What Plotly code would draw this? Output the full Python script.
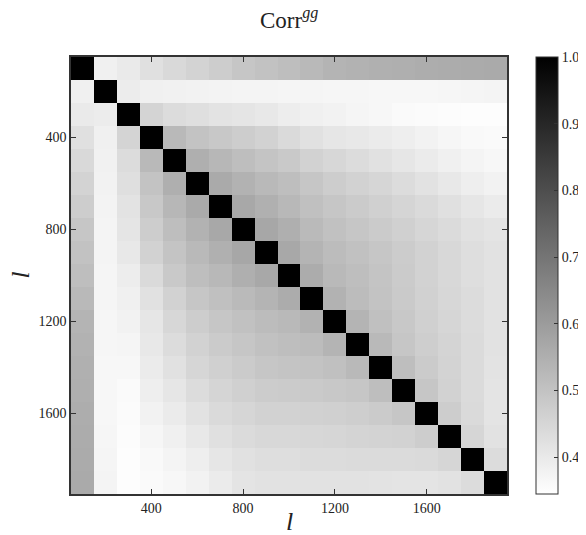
import plotly.graph_objects as go

# multipole bin centres (l)
ell = [100, 200, 300, 400, 500, 600, 700, 800, 900, 1000,
       1100, 1200, 1300, 1400, 1500, 1600, 1700, 1800, 1900]

# upper triangle of the correlation matrix, row i holds columns i+1 .. 18
upper_rows = [
    [0.383, 0.399, 0.425, 0.443, 0.458, 0.473, 0.491, 0.502, 0.512, 0.525, 0.538, 0.543, 0.548, 0.550, 0.556, 0.558, 0.561, 0.563],
    [0.394, 0.383, 0.381, 0.378, 0.376, 0.373, 0.373, 0.371, 0.371, 0.368, 0.368, 0.365, 0.365, 0.365, 0.368, 0.371, 0.373],
    [0.455, 0.435, 0.427, 0.417, 0.412, 0.404, 0.391, 0.383, 0.378, 0.371, 0.365, 0.358, 0.355, 0.353, 0.350, 0.350],
    [0.525, 0.499, 0.486, 0.473, 0.460, 0.440, 0.422, 0.409, 0.404, 0.396, 0.389, 0.378, 0.368, 0.360, 0.358],
    [0.550, 0.530, 0.512, 0.496, 0.484, 0.460, 0.448, 0.435, 0.422, 0.409, 0.396, 0.383, 0.373, 0.365],
    [0.563, 0.543, 0.525, 0.512, 0.491, 0.473, 0.460, 0.450, 0.435, 0.419, 0.404, 0.389, 0.378],
    [0.568, 0.548, 0.527, 0.507, 0.491, 0.478, 0.466, 0.453, 0.440, 0.425, 0.409, 0.396],
    [0.571, 0.550, 0.522, 0.504, 0.491, 0.478, 0.466, 0.450, 0.437, 0.422, 0.414],
    [0.568, 0.538, 0.517, 0.504, 0.491, 0.476, 0.460, 0.445, 0.430, 0.419],
    [0.558, 0.525, 0.512, 0.496, 0.478, 0.460, 0.445, 0.430, 0.419],
    [0.543, 0.517, 0.499, 0.481, 0.463, 0.448, 0.435, 0.419],
    [0.538, 0.507, 0.486, 0.466, 0.450, 0.435, 0.419],
    [0.525, 0.491, 0.471, 0.455, 0.437, 0.419],
    [0.512, 0.478, 0.458, 0.437, 0.417],
    [0.491, 0.460, 0.437, 0.414],
    [0.473, 0.440, 0.414],
    [0.450, 0.419],
    [0.435],
]
diag_value = 1.0

tick_vals = [400, 800, 1200, 1600]
tick_text = ["400", "800", "1200", "1600"]
cbar_vals = [0.4, 0.5, 0.6, 0.7, 0.8, 0.9, 1.0]
cbar_text = ["0.4", "0.5", "0.6", "0.7", "0.8", "0.9", "1.0"]
title_text = "Corr<sup><i>gg</i></sup>"
axis_label = "<i>l</i>"

n = len(ell)
corr = [[diag_value] * n for _ in range(n)]
for i, row in enumerate(upper_rows):
    for k, v in enumerate(row):
        j = i + 1 + k
        corr[i][j] = v
        corr[j][i] = v

serif = "Liberation Serif, Times New Roman, serif"
dark = "#333333"
txt = "#222222"

# the page body adds an 8px offset, so the figure is sized to fit inside the window
W, H = 578, 527
L, T = 63, 49
PW, PH = 436, 437
B = H - T - PH


def py(p):  # figure pixel row -> paper y
    return (H - B - p) / PH


def px(p):  # figure pixel column -> paper x
    return (p - L) / PW


fig = go.Figure(
    go.Heatmap(
        x=ell, y=ell, z=corr,
        colorscale=[[0, "#ffffff"], [1, "#000000"]],
        zmin=0.345, zmax=1.0,
        colorbar=dict(
            x=(536 - 71) / PW, xanchor="left", xpad=0,
            y=0.5, yanchor="middle", len=1.0, lenmode="fraction", ypad=0,
            thickness=22,
            outlinewidth=1, outlinecolor=dark,
            tickvals=cbar_vals, ticktext=cbar_text,
            ticks="inside", ticklen=4, tickcolor=dark, tickwidth=1,
            tickfont=dict(family=serif, size=14, color=txt),
        ),
        hoverinfo="skip",
    )
)

fig.update_layout(
    width=W, height=H,
    margin=dict(l=L, r=W - L - PW, t=T, b=B, autoexpand=False),
    paper_bgcolor="white", plot_bgcolor="white",
    xaxis=dict(
        range=[50, 1950], tickvals=tick_vals, ticktext=tick_text,
        ticks="inside", ticklen=5, tickcolor=dark, tickwidth=1,
        showline=True, linecolor=dark, linewidth=1.5, mirror="ticks",
        showgrid=False, zeroline=False, automargin=False,
        tickfont=dict(family=serif, size=14, color=txt),
    ),
    yaxis=dict(
        range=[1950, 50], tickvals=tick_vals, ticktext=tick_text,
        ticks="inside", ticklen=5, tickcolor=dark, tickwidth=1,
        showline=True, linecolor=dark, linewidth=1.5, mirror="ticks",
        showgrid=False, zeroline=False, automargin=False,
        tickfont=dict(family=serif, size=14, color=txt),
    ),
    annotations=[
        dict(text=title_text, xref="paper", yref="paper", x=0.5, y=py(27),
             xanchor="center", yanchor="bottom", showarrow=False,
             font=dict(family=serif, size=23, color=txt)),
        dict(text=axis_label, xref="paper", yref="paper", x=0.5, y=py(513),
             xanchor="center", yanchor="middle", showarrow=False,
             font=dict(family=serif, size=26, color=txt)),
        dict(text=axis_label, xref="paper", yref="paper", x=px(12), y=0.5,
             xanchor="center", yanchor="middle", showarrow=False, textangle=-90,
             font=dict(family=serif, size=25, color=txt)),
    ],
)

fig.write_html("out.html")
